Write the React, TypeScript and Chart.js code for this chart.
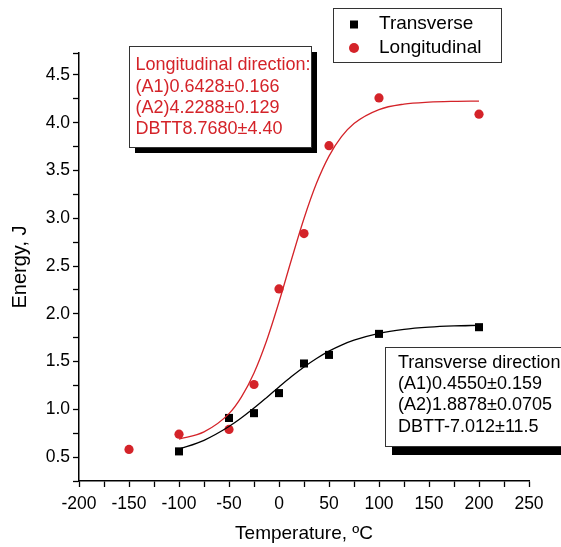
import React, { useEffect, useRef } from 'react';
import { Chart, registerables } from 'chart.js';

Chart.register(...registerables);

const FONT = '"Liberation Sans", Arial, Helvetica, sans-serif';
const RED = '#d42329';
const BLACK = '#000000';

// Measured points
const transverseTemps = [-100, -50, -25, 0, 25, 50, 100, 200];
const transverseEnergy = [0.56, 0.91, 0.96, 1.17, 1.48, 1.57, 1.79, 1.86];
const longitudinalTemps = [-150, -100, -50, -25, 0, 25, 50, 100, 200];
const longitudinalEnergy = [0.58, 0.74, 0.79, 1.26, 2.26, 2.84, 3.76, 4.26, 4.09];

// Fitted curves
const fitTemps = [-100, -75, -50, -37.5, -25, -12.5, 0, 12.5, 25, 37.5, 50, 62.5, 75, 100, 125, 150, 175, 200];
const longitudinalFit = [0.688, 0.764, 0.955, 1.13, 1.381, 1.716, 2.124, 2.569, 2.998, 3.366, 3.651, 3.854, 3.992, 4.138, 4.195, 4.216, 4.224, 4.227];
const transverseFit = [0.583, 0.676, 0.82, 0.911, 1.013, 1.122, 1.234, 1.343, 1.444, 1.533, 1.61, 1.673, 1.724, 1.796, 1.837, 1.86, 1.873, 1.88];

// Axes
const xTickValues = [-200, -175, -150, -125, -100, -75, -50, -25, 0, 25, 50, 75, 100, 125, 150, 175, 200, 225, 250];
const xLabelValues = [-200, -150, -100, -50, 0, 50, 100, 150, 200, 250];
const yTickValues = [0.25, 0.5, 0.75, 1.0, 1.25, 1.5, 1.75, 2.0, 2.25, 2.5, 2.75, 3.0, 3.25, 3.5, 3.75, 4.0, 4.25, 4.5, 4.73];
const yLabelValues = [0.5, 1.0, 1.5, 2.0, 2.5, 3.0, 3.5, 4.0, 4.5];

const legendLabels = ['Transverse', 'Longitudinal'];
const longitudinalNote = ['Longitudinal direction:', '(A1)0.6428\u00b10.166', '(A2)4.2288\u00b10.129', 'DBTT8.7680\u00b14.40'];
const transverseNote = ['Transverse direction:', '(A1)0.4550\u00b10.159', '(A2)1.8878\u00b10.0705', 'DBTT-7.012\u00b111.5'];

const toXY = (xs: number[], ys: number[]) => xs.map((x, i) => ({ x, y: ys[i] }));

const overlayPlugin = {
  id: 'overlay',
  afterDraw(chart: any) {
    const ctx = chart.ctx as CanvasRenderingContext2D;
    ctx.save();

    // Legend box
    ctx.fillStyle = '#ffffff';
    ctx.fillRect(333.5, 8.5, 168, 54);
    ctx.strokeStyle = '#333333';
    ctx.lineWidth = 1;
    ctx.strokeRect(333.5, 8.5, 168, 54);
    ctx.fillStyle = BLACK;
    ctx.fillRect(350, 20.5, 8, 8);
    ctx.fillStyle = RED;
    ctx.beginPath();
    ctx.arc(354, 48, 5, 0, Math.PI * 2);
    ctx.fill();
    ctx.fillStyle = BLACK;
    ctx.font = `19px ${FONT}`;
    ctx.textBaseline = 'middle';
    ctx.textAlign = 'left';
    ctx.fillText(legendLabels[0], 379, 24);
    ctx.fillText(legendLabels[1], 379, 48);

    // Longitudinal note box
    ctx.fillStyle = '#000';
    ctx.fillRect(135, 52, 182, 101);
    ctx.fillStyle = '#fff';
    ctx.fillRect(129.5, 46.5, 182, 101);
    ctx.strokeStyle = '#333';
    ctx.strokeRect(129.5, 46.5, 182, 101);
    ctx.fillStyle = RED;
    ctx.font = `18px ${FONT}`;
    longitudinalNote.forEach((t, i) => ctx.fillText(t, 135.5, 65.5 + i * 21.3));

    // Transverse note box
    ctx.fillStyle = '#000';
    ctx.fillRect(392, 355, 190, 100);
    ctx.fillStyle = '#fff';
    ctx.fillRect(385.5, 347.5, 190, 99);
    ctx.strokeStyle = '#333';
    ctx.strokeRect(385.5, 347.5, 190, 99);
    ctx.fillStyle = BLACK;
    transverseNote.forEach((t, i) => ctx.fillText(t, 398, 363 + i * 21.2));

    ctx.restore();
  },
};

export default function App() {
  const ref = useRef<HTMLCanvasElement | null>(null);

  useEffect(() => {
    if (!ref.current) return;
    const chart = new Chart(ref.current, {
      type: 'scatter',
      data: {
        datasets: [
          {
            label: 'Transverse fit',
            data: toXY(fitTemps, transverseFit),
            showLine: true,
            borderColor: BLACK,
            borderWidth: 1.3,
            pointRadius: 0,
            cubicInterpolationMode: 'monotone',
          } as any,
          {
            label: 'Longitudinal fit',
            data: toXY(fitTemps, longitudinalFit),
            showLine: true,
            borderColor: RED,
            borderWidth: 1.3,
            pointRadius: 0,
            cubicInterpolationMode: 'monotone',
          } as any,
          {
            label: legendLabels[0],
            data: toXY(transverseTemps, transverseEnergy),
            pointStyle: 'rect',
            pointRadius: 5.7,
            backgroundColor: BLACK,
            borderColor: BLACK,
            borderWidth: 0,
            showLine: false,
          },
          {
            label: legendLabels[1],
            data: toXY(longitudinalTemps, longitudinalEnergy),
            pointStyle: 'circle',
            pointRadius: 4.6,
            backgroundColor: RED,
            borderColor: RED,
            borderWidth: 0,
            showLine: false,
          },
        ],
      },
      options: {
        animation: false,
        responsive: false,
        maintainAspectRatio: false,
        layout: { padding: { left: 0, top: 53, right: 32, bottom: 0 } },
        plugins: { legend: { display: false }, tooltip: { enabled: false } },
        scales: {
          x: {
            type: 'linear',
            min: -200,
            max: 250,
            afterFit: (s: any) => { s.height = 66; },
            afterBuildTicks: (s: any) => { s.ticks = xTickValues.map((v) => ({ value: v })); },
            grid: { drawOnChartArea: false, drawTicks: true, tickLength: 6, tickColor: BLACK, tickWidth: 1.3 },
            border: { display: true, color: BLACK, width: 1.5 },
            ticks: {
              color: BLACK,
              font: { family: FONT, size: 17.5 },
              padding: 7,
              maxRotation: 0,
              autoSkip: false,
              callback: (v: any) => (xLabelValues.includes(Number(v)) ? String(v) : ''),
            },
            title: { display: true, text: 'Temperature, \u00baC', color: BLACK, font: { family: FONT, size: 19 }, padding: { top: 0, bottom: 2 } },
          },
          y: {
            type: 'linear',
            min: 0.25,
            max: 4.73,
            afterFit: (s: any) => { s.width = 79; },
            afterBuildTicks: (s: any) => { s.ticks = yTickValues.map((v) => ({ value: v })); },
            grid: { drawOnChartArea: false, drawTicks: true, tickLength: 6, tickColor: BLACK, tickWidth: 1.3 },
            border: { display: true, color: BLACK, width: 1.5 },
            ticks: {
              color: BLACK,
              font: { family: FONT, size: 17.5 },
              padding: 3,
              autoSkip: false,
              callback: (v: any) => (yLabelValues.some((l) => Math.abs(l - Number(v)) < 1e-6) ? Number(v).toFixed(1) : ''),
            },
            title: { display: true, text: 'Energy, J', color: BLACK, font: { family: FONT, size: 20 }, padding: { top: 8, bottom: 0 } },
          },
        },
      },
      plugins: [overlayPlugin],
    });
    return () => chart.destroy();
  }, []);

  return (
    <div style={{ position: 'fixed', left: 0, top: 0, width: 561, height: 547, background: '#fff' }}>
      <canvas ref={ref} width={561} height={547} style={{ display: 'block' }} />
    </div>
  );
}
